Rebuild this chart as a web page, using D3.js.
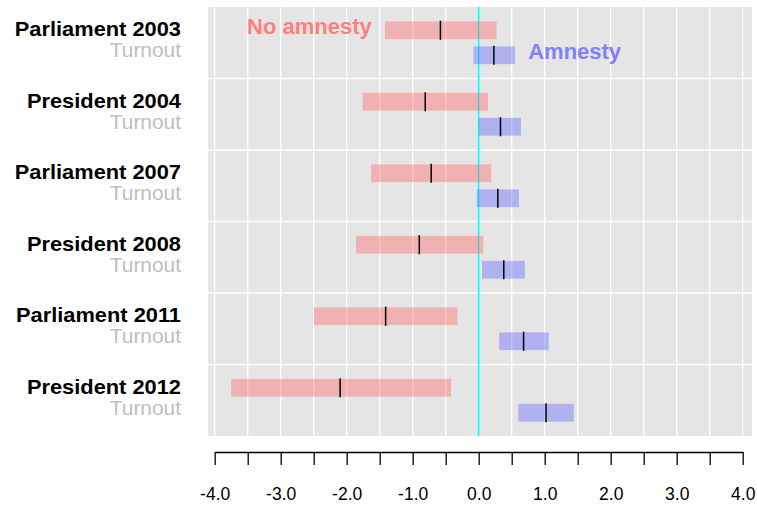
<!DOCTYPE html>
<html>
<head>
<meta charset="utf-8">
<script src="https://cdn.jsdelivr.net/npm/d3@7"></script>
<style>
  html, body { margin: 0; padding: 0; background: #ffffff; }
  svg { display: block; }
  text { font-family: "Liberation Sans", Arial, Helvetica, sans-serif; }
</style>
</head>
<body>
<svg id="chart" width="757" height="506"></svg>
<script>
// Elections (one band each) and the interval estimates per condition
const elections = ["Parliament 2003", "President 2004", "Parliament 2007",
                   "President 2008", "Parliament 2011", "President 2012"];
const conditions = ["No amnesty", "Amnesty"];

const noAmnestyLow  = [-1.42, -1.76, -1.63, -1.86, -2.50, -3.75];
const noAmnestyMid  = [-0.58, -0.81, -0.72, -0.90, -1.41, -2.10];
const noAmnestyHigh = [ 0.27,  0.14,  0.19,  0.07, -0.32, -0.42];

const amnestyLow  = [-0.08, 0.00, -0.03, 0.05, 0.31, 0.60];
const amnestyMid  = [ 0.23, 0.33,  0.29, 0.38, 0.68, 1.02];
const amnestyHigh = [ 0.55, 0.64,  0.61, 0.70, 1.06, 1.44];

const tickValues = d3.range(-4, 4.001, 0.5);
const labelValues = [-4, -3, -2, -1, 0, 1, 2, 3, 4];
const tickLabels = ["-4.0", "-3.0", "-2.0", "-1.0", "0.0", "1.0", "2.0", "3.0", "4.0"];
const subLabel = "Turnout";

const colors = { "No amnesty": "rgb(255,100,100)", "Amnesty": "rgb(100,100,255)" };
const labelColors = { "No amnesty": "#ff7f7f", "Amnesty": "#7f7fff" };

const svg = d3.select("#chart");

const x = d3.scaleLinear().domain([-4, 4]).range([214.7, 742.7]);
const y = d3.scaleBand().domain(elections).range([7, 436]);
const yInner = d3.scaleBand().domain(conditions)
  .range([0, y.bandwidth()]).paddingInner(0.29).paddingOuter(0.575);

const panelLeft = x(-4.1), panelRight = x(4.14);

// panel background
svg.append("rect")
  .attr("x", panelLeft).attr("y", y.range()[0])
  .attr("width", panelRight - panelLeft)
  .attr("height", y.range()[1] - y.range()[0])
  .attr("fill", "#e5e5e5");

// vertical grid lines every 0.5
svg.append("g").selectAll("line").data(tickValues).join("line")
  .attr("x1", d => x(d)).attr("x2", d => x(d))
  .attr("y1", y.range()[0]).attr("y2", y.range()[1])
  .attr("stroke", "#ffffff").attr("stroke-width", 1.3);

// horizontal separators between elections
svg.append("g").selectAll("line").data(elections.slice(1)).join("line")
  .attr("x1", panelLeft).attr("x2", panelRight)
  .attr("y1", d => y(d)).attr("y2", d => y(d))
  .attr("stroke", "#ffffff").attr("stroke-width", 1.3);

// zero reference line
svg.append("line")
  .attr("x1", x(0)).attr("x2", x(0))
  .attr("y1", y.range()[0]).attr("y2", y.range()[1])
  .attr("stroke", "#00ffff").attr("stroke-width", 1.6);

// assemble rows from the arrays
const rows = [];
elections.forEach((e, i) => {
  rows.push({ election: e, cond: "No amnesty", lo: noAmnestyLow[i], mid: noAmnestyMid[i], hi: noAmnestyHigh[i] });
  rows.push({ election: e, cond: "Amnesty", lo: amnestyLow[i], mid: amnestyMid[i], hi: amnestyHigh[i] });
});

const barY = d => y(d.election) + yInner(d.cond);
const bh = yInner.bandwidth();

// interval bars
svg.append("g").selectAll("rect").data(rows).join("rect")
  .attr("x", d => x(d.lo))
  .attr("y", barY)
  .attr("width", d => x(d.hi) - x(d.lo))
  .attr("height", bh)
  .attr("fill", d => colors[d.cond])
  .attr("fill-opacity", 0.4);

// point estimates
svg.append("g").selectAll("line").data(rows).join("line")
  .attr("x1", d => x(d.mid)).attr("x2", d => x(d.mid))
  .attr("y1", d => barY(d) - 0.7).attr("y2", d => barY(d) + bh + 0.7)
  .attr("stroke", "#000000").attr("stroke-width", 1.5);

// election labels (slightly widened type, right-aligned at x = 181)
const labelRight = 181;
const lab = svg.append("g");
lab.selectAll("text.main").data(elections).join("text")
  .attr("class", "main")
  .attr("transform", d => `translate(${labelRight},${y(d) + yInner("No amnesty") + bh / 2 + 6}) scale(1.12,1)`)
  .attr("text-anchor", "end")
  .attr("font-size", 19.5)
  .attr("font-weight", "bold")
  .attr("fill", "#000000")
  .text(d => d);
lab.selectAll("text.sub").data(elections).join("text")
  .attr("class", "sub")
  .attr("transform", d => `translate(${labelRight},${y(d) + yInner("Amnesty") + bh / 2 + 2}) scale(1.045,1)`)
  .attr("text-anchor", "end")
  .attr("font-size", 20)
  .attr("fill", "#bebebe")
  .text(subLabel);

// condition labels inside the first band
const first = elections[0];
svg.append("text")
  .attr("x", x(-3.51))
  .attr("y", y(first) + yInner("No amnesty") + bh / 2 + 3.5)
  .attr("font-size", 22).attr("font-weight", "bold")
  .attr("fill", labelColors["No amnesty"])
  .text("No amnesty");
svg.append("text")
  .attr("x", x(0.75))
  .attr("y", y(first) + yInner("Amnesty") + bh / 2 + 3.8)
  .attr("font-size", 22).attr("font-weight", "bold")
  .attr("fill", labelColors["Amnesty"])
  .text("Amnesty");

// bottom axis: ticks every 0.5, labels on whole numbers
const axis = d3.axisBottom(x)
  .tickValues(tickValues)
  .tickSize(13)
  .tickSizeOuter(0)
  .tickFormat(d => {
    const i = labelValues.indexOf(d);
    return i >= 0 ? tickLabels[i] : "";
  });
const gAxis = svg.append("g").attr("transform", "translate(0,452)").call(axis);
gAxis.select(".domain").attr("stroke", "#000").attr("stroke-width", 1.3);
gAxis.selectAll(".tick line").attr("stroke", "#000").attr("stroke-width", 1.3);
gAxis.selectAll(".tick text")
  .attr("font-family", "Liberation Sans, Arial, sans-serif")
  .attr("font-size", 17.5).attr("fill", "#000").attr("dy", 0).attr("y", 48);
</script>
</body>
</html>
